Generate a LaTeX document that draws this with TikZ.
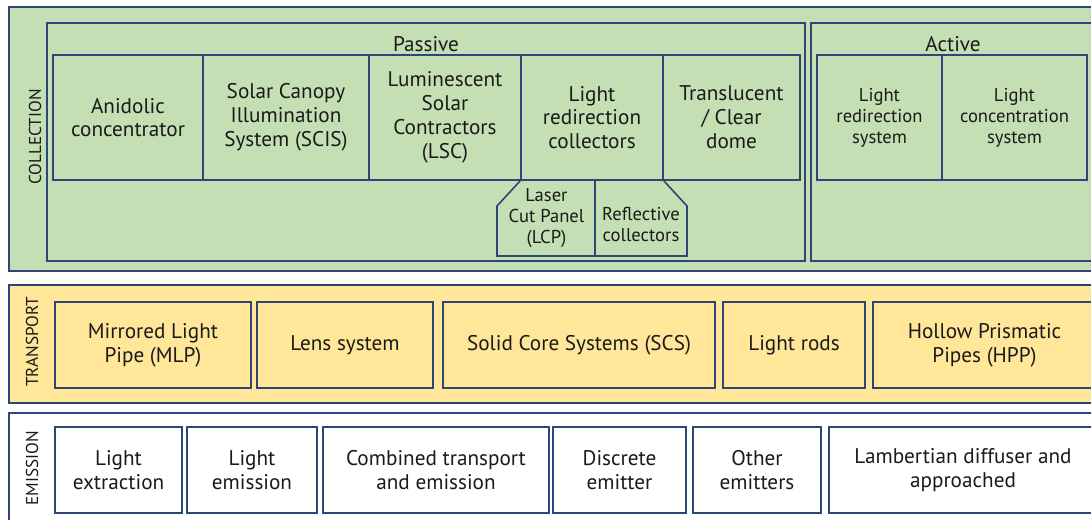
\documentclass[tikz,border=0pt]{standalone}
\usepackage{fontspec}
\setmainfont{PT Sans}
\definecolor{navy}{HTML}{2E4676}
\definecolor{grn}{HTML}{C5DFB4}
\definecolor{ylw}{HTML}{FFE699}
\definecolor{txt}{HTML}{1A1A1A}
\newcommand\fmain{\fontsize{21.2}{23.8}\selectfont}
\newcommand\fsmall{\fontsize{18.6}{21}\selectfont}
\newcommand\flab{\fontsize{17.2}{18}\selectfont}
\tikzset{
  grp/.style={draw=navy, line width=1.6pt, inner sep=0pt},
  cell/.style={draw=navy, line width=1.6pt, inner sep=0pt, align=center, text=txt, font=\fmain},
  scell/.style={cell, font=\fsmall},
  lab/.style={text=txt, font=\flab, inner sep=0pt, rotate=90},
  ttl/.style={text=txt, font=\fmain, inner sep=0pt},
}
\begin{document}
\begin{tikzpicture}[x=1pt,y=-1pt]
\useasboundingbox (0,0) rectangle (1091,519);
\clip (0,0) rectangle (1091,519);
\fill[white] (0,0) rectangle (1091,519);
% COLLECTION
\node[grp, fill=grn, minimum width=1092, minimum height=264] (coll) at (555,139) {};
\node[lab] (colllab) at (35,137) {COLLECTION};
\node[grp, minimum width=758, minimum height=238] (passive) at (426,142) {};
\node[grp, minimum width=289, minimum height=238] (active) at (955.5,142) {};
\node[ttl] (passivelab) at (426,44) {Passive};
\node[ttl] (activelab) at (953,44) {Active};
\node[cell, minimum width=150, minimum height=125] (ca) at (128,117.5) {Anidolic\\concentrator};
\node[cell, minimum width=166, minimum height=125] (cb) at (286,117.5) {Solar Canopy\\Illumination\\System (SCIS)};
\node[cell, minimum width=152, minimum height=125] (cc) at (445,117.5) {Luminescent\\Solar\\Contractors\\(LSC)};
\node[cell, minimum width=142, minimum height=125] (cd) at (592,117.5) {Light\\redirection\\collectors};
\node[cell, minimum width=137, minimum height=125] (ce) at (731.5,117.5) {Translucent\\/ Clear\\dome};
\node[scell, minimum width=125, minimum height=125] (cf) at (879.5,117.5) {Light\\redirection\\system};
\node[scell, minimum width=145, minimum height=125] (cg) at (1014.5,117.5) {Light\\concentration\\system};
% trapezoid below "Light redirection collectors"
\coordinate (mid) at (595,256);
\draw[navy, line width=1.6pt, line join=miter] (cd.south west) -- (497,206) -- (497,256) -- (mid) -- (mid |- cd.south);
\draw[navy, line width=1.6pt, line join=miter] (mid) -- (687,256) -- (687,206) -- (cd.south east);
\node[ttl, font=\fsmall, align=center] (lcp) at (546.5,218) {Laser\\Cut Panel\\(LCP)};
\node[ttl, font=\fsmall, align=center] (refl) at (641,224) {Reflective\\collectors};
% TRANSPORT
\node[grp, fill=ylw, minimum width=1092, minimum height=118] (trans) at (555,344) {};
\node[lab] (translab) at (32,342) {TRANSPORT};
\node[cell, fill=ylw, minimum width=196, minimum height=86] (t1) at (153,345) {Mirrored Light\\Pipe (MLP)};
\node[cell, fill=ylw, minimum width=176, minimum height=86] (t2) at (345,345) {Lens system};
\node[cell, fill=ylw, minimum width=272, minimum height=86] (t3) at (579,345) {Solid Core Systems (SCS)};
\node[cell, fill=ylw, minimum width=142, minimum height=86] (t4) at (794,345) {Light rods};
\node[cell, fill=ylw, minimum width=223, minimum height=86] (t5) at (984.5,345) {Hollow Prismatic\\Pipes (HPP)};
% EMISSION
\node[grp, fill=white, minimum width=1092, minimum height=130] (emis) at (555,478) {};
\node[lab] (emislab) at (32,468) {EMISSION};
\node[cell, minimum width=127, minimum height=86] (e1) at (118.5,470) {Light\\extraction};
\node[cell, minimum width=130, minimum height=86] (e2) at (252,470) {Light\\emission};
\node[cell, minimum width=226, minimum height=86] (e3) at (436,470) {Combined transport\\and emission};
\node[cell, minimum width=133, minimum height=86] (e4) at (619.5,470) {Discrete\\emitter};
\node[cell, minimum width=128, minimum height=86] (e5) at (757,470) {Other\\emitters};
\node[cell, minimum width=268, minimum height=86] (e6) at (963,470) {Lambertian diffuser and\\approached};
\end{tikzpicture}
\end{document}
